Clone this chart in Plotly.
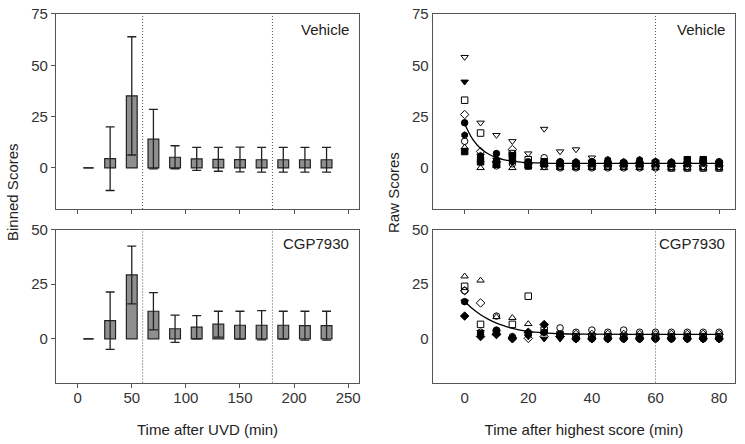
import plotly.graph_objects as go

# binned scores (mean +- SD), left panels
bin_time = [10, 30, 50, 70, 90, 110, 130, 150, 170, 190, 210, 230]
veh_mean = [0, 4.5, 35.1, 14.0, 5.2, 4.4, 4.2, 4.1, 4.0, 4.0, 4.0, 4.0]
veh_sd = [0, 15.5, 28.8, 14.5, 5.6, 5.6, 5.8, 6.0, 6.0, 6.0, 6.0, 6.0]
cgp_mean = [0, 8.3, 29.2, 12.6, 4.6, 5.3, 6.7, 6.2, 6.2, 6.2, 6.0, 6.0]
cgp_sd = [0, 13.1, 13.2, 8.5, 6.2, 5.3, 5.9, 6.4, 6.7, 6.4, 6.6, 6.6]

# raw scores per animal, right panels
raw_time = [0, 5, 10, 15, 20, 25, 30, 35, 40, 45, 50, 55, 60, 65, 70, 75, 80]
veh_raw = {
    "triangle-down-open": [54, 22, 16, 13, 7, 19, 8, 9, 5, 2, 2, 2, 2, 2, 2, 2, 2],
    "triangle-down": [42, 6, 4, 3, 2, 2, 2, 2, 3, 2, 2, 2, 3, 2, 2, 3, 2],
    "square-open": [33, 17, 2, 7, 4, 3, 1, 1, 1, 1, 1, 1, 1, 0, 0, 0, 0],
    "diamond-open": [26, 8, 3, 9, 2, 1, 1, 1, 1, 1, 1, 1, 1, 1, 1, 1, 1],
    "circle": [22, 5, 7, 4, 3, 3, 3, 2, 3, 3, 2, 2, 3, 2, 2, 3, 3],
    "hexagon": [16, 6, 4, 3, 2, 2, 3, 3, 3, 4, 3, 4, 3, 3, 4, 4, 3],
    "circle-open": [13, 3, 1, 2, 1, 5, 0, 0, 0, 0, 0, 0, 0, 0, 0, 0, 0],
    "square": [8, 3, 2, 6, 1, 2, 2, 2, 2, 2, 2, 2, 2, 2, 4, 4, 2],
    "triangle-up-open": [10, 0, 1, 0, 1, 0, 0, 0, 0, 0, 0, 0, 0, 0, 0, 0, 0],
}
cgp_raw = {
    "triangle-up-open": [28.6, 26.7, 10, 9.6, 6.8, 3, 2, 1, 1, 1, 1, 1, 1, 1, 1, 1, 1],
    "square-open": [24, 6.6, 3, 6.6, 19.5, 4, 2, 1, 1, 1, 1, 1, 1, 1, 1, 1, 1],
    "diamond-open": [22, 16.4, 2, 0.5, 0.2, 1, 1, 2, 2, 2, 2, 2, 2, 2, 2, 2, 2],
    "circle-open": [22, 3, 10.4, 1, 2, 3, 5, 3, 4, 3, 4, 3, 3, 3, 3, 3, 3],
    "circle": [17, 2, 4, 0.5, 2.7, 3, 2, 0, 0, 0, 0, 0, 0, 0, 0, 0, 0],
    "diamond": [10.4, 1, 2, 0, 3, 6.5, 1, 0, 0, 0, 0, 0, 0, 0, 0, 0, 0],
    "triangle-down": [17, 3, 3, 0, 1, 0, 0, 0, 0, 0, 0, 0, 0, 0, 0, 0, 0],
}

# fitted decay curves
fit_time = [0, 2.5, 5, 7.5, 10, 12.5, 15, 20, 25, 30, 40, 60, 80]
veh_fit = [21.5, 14.0, 9.5, 6.8, 5.0, 3.9, 3.2, 2.6, 2.3, 2.2, 2.2, 2.2, 2.2]
cgp_fit = [17.2, 13.7, 11.0, 8.9, 7.2, 5.9, 4.8, 3.4, 2.7, 2.3, 2.1, 2.0, 2.0]

FONT = "Liberation Sans, Arial, sans-serif"
DARK = "#333333"
FRAME = "#555555"

fig = go.Figure()

for mean, sd, ax in [(veh_mean, veh_sd, ""), (cgp_mean, cgp_sd, "2")]:
    fig.add_trace(go.Bar(
        x=bin_time, y=mean, width=10,
        marker=dict(color="#8f8f8f", line=dict(color="#222222", width=1.2)),
        error_y=dict(type="data", array=sd, visible=True, color="#222222", thickness=1.3, width=4.5),
        xaxis="x" + ax, yaxis="y" + ax, showlegend=False))

for raw, fit, ax in [(veh_raw, veh_fit, "3"), (cgp_raw, cgp_fit, "4")]:
    for sym, vals in raw.items():
        fig.add_trace(go.Scatter(
            x=raw_time, y=vals, mode="markers",
            marker=dict(symbol=sym, size=6.5, color="black", line=dict(color="black", width=1)),
            xaxis="x" + ax, yaxis="y" + ax, showlegend=False))
    fig.add_trace(go.Scatter(
        x=fit_time, y=fit, mode="lines", line=dict(color="black", width=1.3, shape="spline"),
        xaxis="x" + ax, yaxis="y" + ax, showlegend=False))

xl = [0.0752, 0.4819]
xr = [0.581, 0.9866]
yt = [0.5293, 0.9685]
yb = [0.1385, 0.4831]

axis_common = dict(showline=True, mirror=True, linecolor=FRAME, linewidth=1.3, showgrid=False, zeroline=False,
                   tickfont=dict(family=FONT, size=15, color=DARK), ticklen=4, tickcolor=FRAME,
                   tickwidth=1, automargin=False)
title_font = dict(family=FONT, size=15, color="#222222")

fig.update_layout(
    template="none",
    width=745, height=444,
    margin=dict(l=0, r=0, t=0, b=0, autoexpand=False),
    paper_bgcolor="white", plot_bgcolor="white",
    font=dict(family=FONT, size=15, color=DARK),
    xaxis=dict(domain=xl, anchor="y", range=[-20, 260], tickvals=[0, 50, 100, 150, 200, 250],
               showticklabels=False, ticks="outside", **axis_common),
    yaxis=dict(domain=yt, anchor="x", range=[-20, 75], tickvals=[0, 25, 50, 75], ticks="outside", **axis_common),
    xaxis2=dict(domain=xl, anchor="y2", range=[-20, 260], tickvals=[0, 50, 100, 150, 200, 250],
                ticks="outside", ticklabelstandoff=-3,
                title=dict(text="Time after UVD (min)", standoff=19, font=title_font), **axis_common),
    yaxis2=dict(domain=yb, anchor="x2", range=[-20, 50], tickvals=[0, 25, 50], ticks="outside", **axis_common),
    xaxis3=dict(domain=xr, anchor="y3", range=[-10, 85], tickvals=[0, 20, 40, 60, 80],
                showticklabels=False, ticks="outside", **axis_common),
    yaxis3=dict(domain=yt, anchor="x3", range=[-20, 75], tickvals=[0, 25, 50, 75], ticks="", **axis_common),
    xaxis4=dict(domain=xr, anchor="y4", range=[-10, 85], tickvals=[0, 20, 40, 60, 80],
                ticks="", ticklabelstandoff=1,
                title=dict(text="Time after highest score (min)", standoff=19, font=title_font), **axis_common),
    yaxis4=dict(domain=yb, anchor="x4", range=[-20, 50], tickvals=[0, 25, 50], ticks="", **axis_common),
)

# dotted reference lines
for xa, ya, xs in [("x", "y", [60, 180]), ("x2", "y2", [60, 180]), ("x3", "y3", [60]), ("x4", "y4", [60])]:
    for xv in xs:
        fig.add_shape(type="line", xref=xa, yref=ya + " domain", x0=xv, x1=xv, y0=0, y1=1,
                      line=dict(color=FRAME, width=1, dash="1px,2px"))

# panel labels
for xa, ya, txt in [("x", "y", "Vehicle"), ("x2", "y2", "CGP7930"), ("x3", "y3", "Vehicle"), ("x4", "y4", "CGP7930")]:
    fig.add_annotation(text=txt, xref=xa + " domain", yref=ya + " domain", x=0.975, y=0.975,
                       xanchor="right", yanchor="top", showarrow=False, font=title_font)

fig.add_annotation(text="Binned Scores", xref="paper", yref="paper", x=12 / 745, y=1 - 192 / 444,
                   xanchor="center", yanchor="middle", textangle=-90, showarrow=False, font=title_font)
fig.add_annotation(text="Raw Scores", xref="paper", yref="paper", x=393 / 745, y=1 - 192 / 444,
                   xanchor="center", yanchor="middle", textangle=-90, showarrow=False, font=title_font)

# the page body has a default 8px margin; drop it so the figure fills the window
fig.write_html("out.html", config={"displayModeBar": False},
               post_script="document.body.style.margin='0px';")
